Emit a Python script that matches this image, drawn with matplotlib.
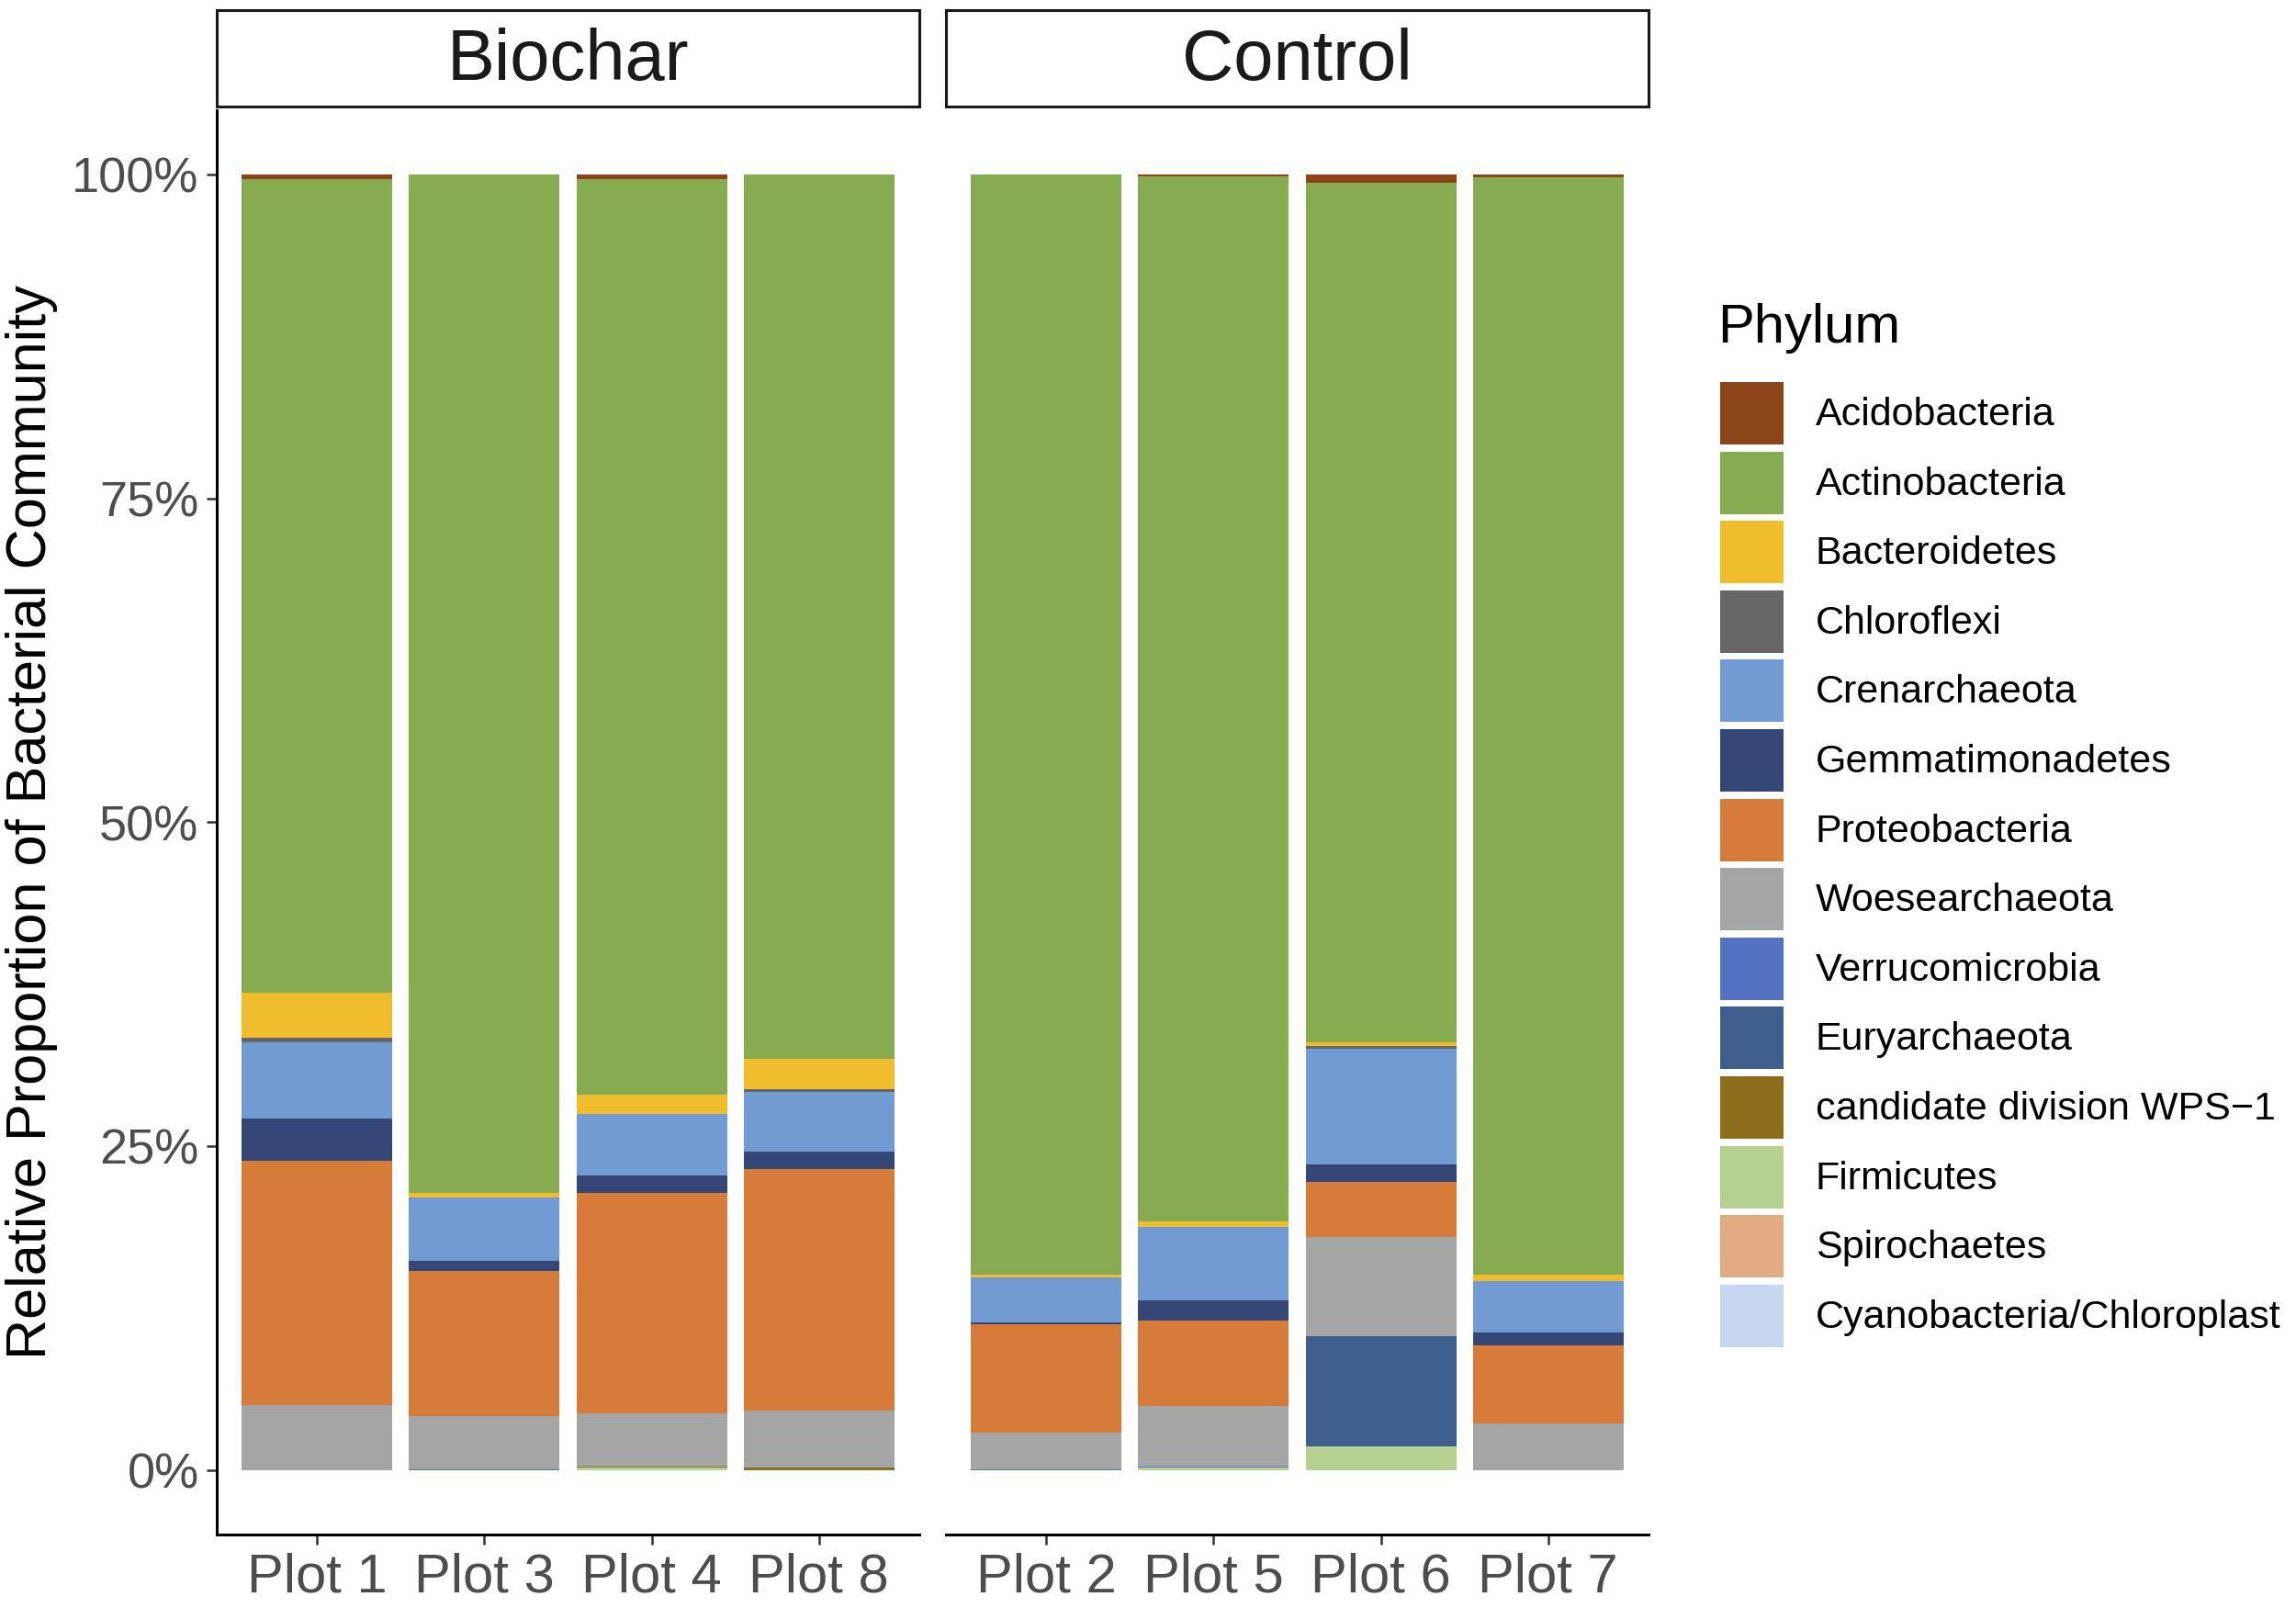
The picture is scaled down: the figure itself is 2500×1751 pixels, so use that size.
import matplotlib
matplotlib.use("Agg")
import matplotlib.pyplot as plt
from matplotlib.patches import Rectangle
import numpy as np

plt.rcParams['font.family'] = ['Liberation Sans', 'DejaVu Sans']

# ---------------- data ----------------
groups = ["Biochar", "Control"]
plots_biochar = ["Plot 1", "Plot 3", "Plot 4", "Plot 8"]
plots_control = ["Plot 2", "Plot 5", "Plot 6", "Plot 7"]

phyla = ["Acidobacteria", "Actinobacteria", "Bacteroidetes", "Chloroflexi",
         "Crenarchaeota", "Gemmatimonadetes", "Proteobacteria", "Woesearchaeota",
         "Verrucomicrobia", "Euryarchaeota", "candidate division WPS\u22121",
         "Firmicutes", "Spirochaetes", "Cyanobacteria/Chloroplast"]

colors = ["#8B4519", "#86AB50", "#F0BE2C", "#666666", "#729BD3", "#344777",
          "#D67B39", "#A5A5A5", "#5472C4", "#3E5F8E", "#8B6D1B", "#B5D091",
          "#E2AB82", "#C5D6EE"]

# percent values per phylum (order of `phyla`)
plot1 = [0.35, 62.80, 3.45, 0.40, 5.90, 3.20, 18.90, 5.00, 0.00, 0.00, 0.00, 0.00, 0.00, 0.00]
plot3 = [0.00, 78.65, 0.30, 0.00, 4.90, 0.80, 11.20, 4.10, 0.05, 0.00, 0.00, 0.00, 0.00, 0.00]
plot4 = [0.35, 70.65, 1.50, 0.00, 4.80, 1.30, 17.05, 4.10, 0.00, 0.00, 0.10, 0.15, 0.00, 0.00]
plot8 = [0.00, 68.25, 2.35, 0.20, 4.60, 1.40, 18.60, 4.45, 0.00, 0.00, 0.15, 0.00, 0.00, 0.00]
plot2 = [0.00, 84.90, 0.25, 0.00, 3.45, 0.15, 8.40, 2.80, 0.05, 0.00, 0.00, 0.00, 0.00, 0.00]
plot5 = [0.10, 80.70, 0.45, 0.00, 5.65, 1.60, 6.60, 4.65, 0.10, 0.00, 0.00, 0.15, 0.00, 0.00]
plot6 = [0.60, 66.40, 0.30, 0.20, 8.90, 1.40, 4.20, 7.70, 0.00, 8.50, 0.00, 1.80, 0.00, 0.00]
plot7 = [0.15, 84.80, 0.45, 0.00, 4.00, 1.00, 6.05, 3.55, 0.00, 0.00, 0.00, 0.00, 0.00, 0.00]

biochar_vals = [plot1, plot3, plot4, plot8]
control_vals = [plot2, plot5, plot6, plot7]

yticks = [0, 0.25, 0.5, 0.75, 1.0]
ytick_labels = ["0%", "25%", "50%", "75%", "100%"]

# ---------------- figure ----------------
W, H = 2500, 1751
fig = plt.figure(figsize=(W / 100, H / 100), dpi=100)

def px_axes(x0, y0, x1, y1):
    return fig.add_axes([x0 / W, 1 - y1 / H, (x1 - x0) / W, (y1 - y0) / H])

panel_top, panel_bot = 120, 1671
axL = px_axes(236, panel_top, 1001, panel_bot)
axR = px_axes(1030, panel_top, 1795, panel_bot)

tick_col = "#333333"
lab_col = "#4D4D4D"

for ax, name, labels, vals in [(axL, groups[0], plots_biochar, biochar_vals),
                               (axR, groups[1], plots_control, control_vals)]:
    x = np.arange(1, len(labels) + 1)
    arr = np.array(vals) / 100.0  # shape (bars, phyla)
    bottom = np.zeros(len(labels))
    # ggplot stacks first level on top -> draw from last phylum upward
    for j in range(len(phyla) - 1, -1, -1):
        ax.bar(x, arr[:, j], width=0.9, bottom=bottom, color=colors[j],
               linewidth=0)
        bottom = bottom + arr[:, j]
    ax.set_xlim(0.4, len(labels) + 0.6)
    ax.set_ylim(-0.05, 1.05)
    ax.set_xticks(x)
    ax.set_xticklabels(labels, fontsize=43, color=lab_col)
    for s in ["top", "right"]:
        ax.spines[s].set_visible(False)
    ax.spines["bottom"].set_linewidth(2.2)
    ax.spines["left"].set_linewidth(2.2)
    ax.spines["bottom"].set_color("black")
    ax.tick_params(axis="x", length=8, width=1.8, color=tick_col, pad=6)
    ax.tick_params(axis="y", length=8, width=1.8, color=tick_col, pad=6)
    # strip
    sh = 105 / (panel_bot - panel_top)
    gap = 4 / (panel_bot - panel_top)
    ax.add_patch(Rectangle((0, 1 + gap), 1, sh, transform=ax.transAxes,
                           facecolor="white", edgecolor="#1A1A1A",
                           linewidth=2.2, clip_on=False))
    ax.text(0.5, 1 + gap + sh / 2 - 0.002, name, transform=ax.transAxes,
            ha="center", va="center", fontsize=56, color="#1A1A1A")

axL.set_yticks(yticks)
axL.set_yticklabels(ytick_labels, fontsize=39, color=lab_col)
axR.spines["left"].set_visible(False)
axR.set_yticks([])

fig.text(35 / W, 1 - 895 / H, "Relative Proportion of Bacterial Community",
         rotation=90, ha="center", va="center", fontsize=44, color="black")

# ---------------- legend ----------------
fig.text(1870 / W, 1 - 373 / H, "Phylum", ha="left", va="baseline",
         fontsize=43, color="black")
key_x0, key_w, key_h = 1873, 69, 68
key_y0, key_step = 416, 75.6
for i, (p, c) in enumerate(zip(phyla, colors)):
    yt = key_y0 + i * key_step
    fig.patches.append(Rectangle((key_x0 / W, 1 - (yt + key_h) / H),
                                 key_w / W, key_h / H, transform=fig.transFigure,
                                 facecolor=c, edgecolor="none"))
    fig.text(1977 / W, 1 - (yt + key_h / 2 + 2) / H, p, ha="left", va="center",
             fontsize=31, color="black")

fig.savefig("out.png", dpi=100, facecolor="white")
